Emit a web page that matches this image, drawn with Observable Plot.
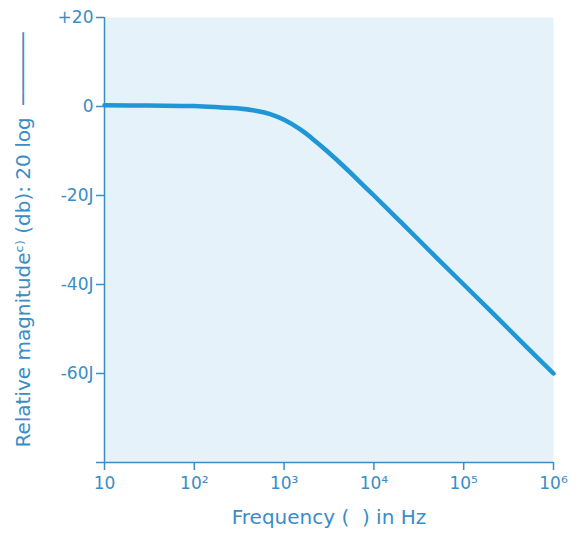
<!DOCTYPE html>
<html>
<head>
<meta charset="utf-8">
<script src="https://cdn.jsdelivr.net/npm/d3@7"></script>
<script src="https://cdn.jsdelivr.net/npm/@observablehq/plot@0.6"></script>
<style>
  html, body { margin: 0; padding: 0; background: #ffffff; }
  #chart svg { display: block; }
</style>
</head>
<body>
<div id="chart"></div>
<script>
// Frequency response of a first-order low-pass filter (magnitude in dB)
const frequencies = [10, 30, 100, 200, 300, 500, 700, 1000, 1500, 2000, 3000, 5000, 7000, 10000, 20000, 50000, 100000, 200000, 500000, 1000000];
const magnitudes  = [0.3, 0.2, 0.1, -0.2, -0.4, -1.0, -1.7, -3.0, -5.1, -7.0, -10.0, -14.1, -17.0, -20.0, -26.0, -34.0, -40.0, -46.0, -54.0, -60.0];

const xTickValues = [10, 100, 1000, 10000, 100000, 1000000];
const xTickLabels = ["10", "10²", "10³", "10⁴", "10⁵", "10⁶"];
const yTickValues = [20, 0, -20, -40, -60, -80];
const yTickLabels = ["+20", "0", "-20J", "-40J", "-60J", ""];

const xTitle = "Frequency (  ) in Hz";
const yTitle = "Relative magnitudeᶜ⁾ (db): 20 log  ──────";

const response = frequencies.map((f, i) => ({f, db: magnitudes[i]}));

const ink = "#3a8dc6";
const curve = "#1f96d5";

const chart = Plot.plot({
  width: 585,
  height: 536,
  marginLeft: 104,
  marginRight: 32,
  marginTop: 17,
  marginBottom: 74,
  style: {fontFamily: "DejaVu Sans, sans-serif", color: ink, background: "#ffffff"},
  x: {type: "log", domain: [10, 1000000]},
  y: {domain: [-80, 20]},
  marks: [
    Plot.frame({fill: "#e5f2f9", stroke: null}),
    Plot.axisX({
      ticks: xTickValues,
      tickFormat: (d) => xTickLabels[xTickValues.indexOf(d)],
      tickSize: 8,
      tickPadding: 6,
      fontSize: 17,
      stroke: ink,
      strokeWidth: 1.5,
      fill: ink,
      label: null
    }),
    Plot.axisY({
      ticks: yTickValues,
      tickFormat: (d) => yTickLabels[yTickValues.indexOf(d)],
      tickSize: 8,
      tickPadding: 3,
      fontSize: 17,
      stroke: ink,
      strokeWidth: 1.5,
      fill: ink,
      label: null
    }),
    Plot.ruleX([10], {stroke: ink, strokeWidth: 1.5}),
    Plot.ruleY([-80], {stroke: ink, strokeWidth: 1.5}),
    Plot.line(response, {x: "f", y: "db", stroke: curve, strokeWidth: 4.5, curve: "catmull-rom"}),
    Plot.text([xTitle], {frameAnchor: "bottom", dy: 61, fontSize: 20, fill: ink, text: (d) => d}),
    Plot.text([yTitle], {frameAnchor: "left", textAnchor: "middle", dx: -81, dy: 0, rotate: -90, fontSize: 20, fill: ink, text: (d) => d})
  ]
});

document.getElementById("chart").appendChild(chart);
</script>
</body>
</html>
